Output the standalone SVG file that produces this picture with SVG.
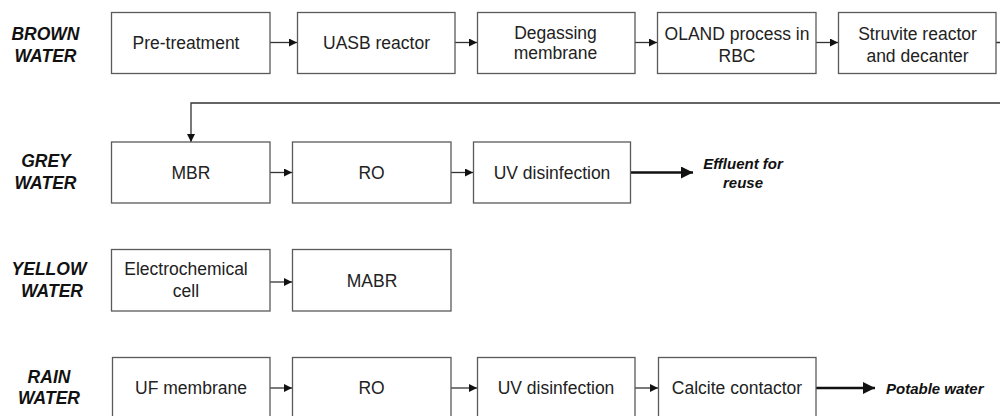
<svg xmlns="http://www.w3.org/2000/svg" width="1000" height="416" viewBox="0 0 1000 416">
<defs>
<style>
.box{fill:#fff;stroke:#5a5a5a;stroke-width:1.3}
.t{font-family:"Liberation Sans",Arial,sans-serif;font-size:17.5px;fill:#222;text-anchor:middle}
.lbl{font-family:"Liberation Sans",Arial,sans-serif;font-size:17.5px;font-weight:bold;font-style:italic;fill:#111;text-anchor:middle}
.out{font-family:"Liberation Sans",Arial,sans-serif;font-size:15px;font-weight:bold;font-style:italic;fill:#111}
.c{fill:none;stroke:#333;stroke-width:1.3}
.ck{fill:none;stroke:#111;stroke-width:2.6}
</style>
<marker id="ah" viewBox="0 0 8 8" refX="8" refY="4" markerWidth="8" markerHeight="8" markerUnits="userSpaceOnUse" orient="auto"><path d="M0,0 L8,4 L0,8 Z" fill="#111"/></marker>
<marker id="ahk" viewBox="0 0 12 12" refX="12" refY="6" markerWidth="12" markerHeight="12" markerUnits="userSpaceOnUse" orient="auto"><path d="M0,0 L12,6 L0,12 Z" fill="#111"/></marker>
</defs>

<g id="labels">
<text class="lbl" x="45.5" y="40">BROWN</text><text class="lbl" x="45.5" y="61.5">WATER</text>
<text class="lbl" x="46" y="167">GREY</text><text class="lbl" x="45.5" y="189">WATER</text>
<text class="lbl" x="49" y="275">YELLOW</text><text class="lbl" x="52" y="296.5">WATER</text>
<text class="lbl" x="49" y="383">RAIN</text><text class="lbl" x="49" y="404">WATER</text>
</g>

<g id="connectors">
<path class="c" d="M270,42.5 H297" marker-end="url(#ah)"/>
<path class="c" d="M455,42.5 H477" marker-end="url(#ah)"/>
<path class="c" d="M635,42.5 H657" marker-end="url(#ah)"/>
<path class="c" d="M816,42.5 H838" marker-end="url(#ah)"/>
<path class="c" d="M996,42.5 H1010 V103 H191 V142" marker-end="url(#ah)"/>
<path class="c" d="M270,172.5 H292" marker-end="url(#ah)"/>
<path class="c" d="M451,172.5 H473" marker-end="url(#ah)"/>
<path class="ck" d="M630,172.5 H693" marker-end="url(#ahk)"/>
<path class="c" d="M270,282 H292" marker-end="url(#ah)"/>
<path class="c" d="M270,388 H292" marker-end="url(#ah)"/>
<path class="c" d="M451,388 H477" marker-end="url(#ah)"/>
<path class="c" d="M635,388 H658" marker-end="url(#ah)"/>
<path class="ck" d="M816,388 H875" marker-end="url(#ahk)"/>
</g>

<g id="b1"><rect class="box" x="111.5" y="12.5" width="158.5" height="61"/><text class="t" x="186" y="48.5">Pre-treatment</text></g>
<g id="b2"><rect class="box" x="297.5" y="12.5" width="157.5" height="61"/><text class="t" x="376.5" y="48.5">UASB reactor</text></g>
<g id="b3"><rect class="box" x="477.5" y="12.5" width="157.5" height="61"/><text class="t" x="555.5" y="38.5">Degassing</text><text class="t" x="555.5" y="59">membrane</text></g>
<g id="b4"><rect class="box" x="657.5" y="12.5" width="158.5" height="61"/><text class="t" x="737" y="40">OLAND process in</text><text class="t" x="737" y="61.5">RBC</text></g>
<g id="b5"><rect class="box" x="838.5" y="12.5" width="157.5" height="61"/><text class="t" x="917.5" y="40">Struvite reactor</text><text class="t" x="917.5" y="61.5">and decanter</text></g>

<g id="g1"><rect class="box" x="111.5" y="142" width="158.5" height="61"/><text class="t" x="191" y="178.5">MBR</text></g>
<g id="g2"><rect class="box" x="292.5" y="142" width="158.5" height="61"/><text class="t" x="371.5" y="178.5">RO</text></g>
<g id="g3"><rect class="box" x="473.5" y="142" width="157" height="61"/><text class="t" x="552" y="178.5">UV disinfection</text></g>
<g id="g4"><text class="out" x="743" y="169" text-anchor="middle">Effluent for</text><text class="out" x="743" y="187.5" text-anchor="middle">reuse</text></g>

<g id="y1"><rect class="box" x="111.5" y="249.5" width="158.5" height="61.5"/><text class="t" x="186" y="275">Electrochemical</text><text class="t" x="186" y="296.5">cell</text></g>
<g id="y2"><rect class="box" x="292.5" y="249.5" width="158.5" height="61.5"/><text class="t" x="372" y="286.5">MABR</text></g>

<g id="r1"><rect class="box" x="112.5" y="357.5" width="157.5" height="62"/><text class="t" x="191" y="394">UF membrane</text></g>
<g id="r2"><rect class="box" x="292.5" y="357.5" width="158.5" height="62"/><text class="t" x="371.5" y="394">RO</text></g>
<g id="r3"><rect class="box" x="477.5" y="357.5" width="157.5" height="62"/><text class="t" x="556" y="394">UV disinfection</text></g>
<g id="r4"><rect class="box" x="658.5" y="357.5" width="157.5" height="62"/><text class="t" x="737" y="394">Calcite contactor</text></g>
<g id="r5"><text class="out" x="886" y="394">Potable water</text></g>
</svg>
